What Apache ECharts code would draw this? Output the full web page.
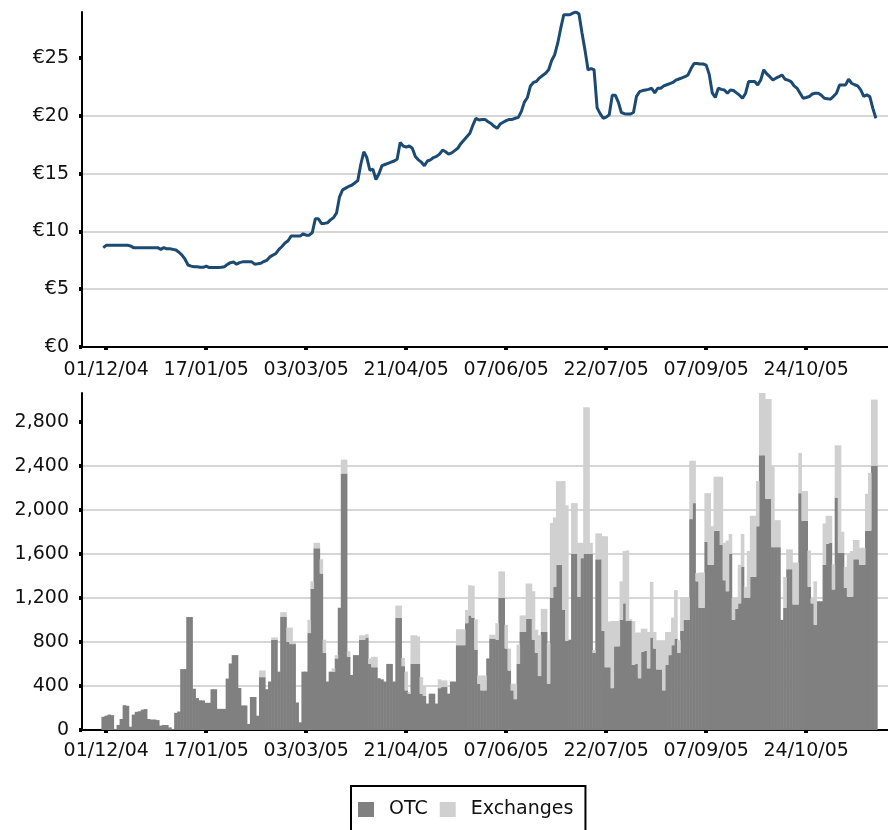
<!DOCTYPE html>
<html>
<head>
<meta charset="UTF-8">
<script src="https://cdn.jsdelivr.net/npm/echarts@6/dist/echarts.min.js"></script>
<style>
    * { margin: 0; padding: 0; }
    body { background: #fff; }
    #chart { width: 888px; height: 830px; }
</style>
</head>
<body>
<div id="chart"></div>
<script>
    // x positions are trading-day slots; first traded day sits in slot 7
    var firstSlot = 7;
    var slotCount = 267;
    var tickSlot = 8;   // slot of 01/12/04
    var tickStep = 33;  // trading days between labels
    var tickLabels = ['01/12/04', '17/01/05', '03/03/05', '21/04/05', '07/06/05', '22/07/05', '07/09/05', '24/10/05'];

    // share price in euro
    var price = [
        8.6, 8.8, 8.8, 8.8, 8.8, 8.8, 8.8, 8.8, 8.8, 8.75,
        8.6, 8.6, 8.6, 8.6, 8.6, 8.6, 8.6, 8.6, 8.6, 8.45,
        8.6, 8.5, 8.5, 8.45, 8.4, 8.2, 7.95, 7.6, 7.1, 7.0,
        6.95, 6.95, 6.9, 6.9, 7.0, 6.88, 6.88, 6.88, 6.88, 6.9,
        6.95, 7.15, 7.3, 7.35, 7.17, 7.3, 7.37, 7.37, 7.37, 7.37,
        7.17, 7.2, 7.25, 7.4, 7.5, 7.8, 7.95, 8.1, 8.45, 8.7,
        9.0, 9.2, 9.6, 9.6, 9.6, 9.6, 9.8, 9.68, 9.68, 9.9,
        11.1, 11.1, 10.7, 10.7, 10.75, 11.0, 11.2, 11.6, 13.0, 13.6,
        13.75, 13.9, 14.0, 14.2, 14.4, 15.8, 16.9, 16.4, 15.3, 15.4,
        14.5, 15.0, 15.7, 15.8, 15.9, 16.0, 16.1, 16.25, 17.7, 17.4,
        17.3, 17.4, 17.2, 16.5, 16.2, 16.0, 15.7, 16.1, 16.2, 16.4,
        16.5, 16.7, 17.05, 16.9, 16.7, 16.8, 17.0, 17.2, 17.6, 17.9,
        18.2, 18.5, 19.2, 19.8, 19.65, 19.7, 19.7, 19.5, 19.35, 19.1,
        18.93, 19.3, 19.45, 19.6, 19.7, 19.7, 19.8, 19.88, 20.4, 21.2,
        21.6, 22.6, 22.9, 23.0, 23.3, 23.5, 23.7, 24.0, 24.8, 25.3,
        26.3, 27.6, 28.76, 28.76, 28.76, 28.9, 29.0, 28.84, 27.2, 25.7,
        24.0, 24.1, 24.0, 20.7, 20.2, 19.8, 19.9, 20.1, 21.8, 21.8,
        21.2, 20.3, 20.2, 20.17, 20.17, 20.3, 21.7, 22.1, 22.2, 22.25,
        22.3, 22.4, 22.0, 22.4, 22.4, 22.6, 22.7, 22.8, 22.9, 23.1,
        23.2, 23.3, 23.4, 23.55, 24.1, 24.55, 24.55, 24.5, 24.5, 24.4,
        23.6, 22.0, 21.6, 22.4, 22.3, 22.25, 21.97, 22.25, 22.2, 22.0,
        21.8, 21.53, 21.97, 22.98, 22.98, 22.98, 22.69, 23.12, 24.0, 23.64,
        23.4, 23.12, 23.27, 23.4, 23.55, 23.18, 23.1, 22.98, 22.6, 22.4,
        21.97, 21.53, 21.6, 21.68, 21.9, 21.97, 21.97, 21.8, 21.53, 21.5,
        21.45, 21.7, 21.97, 22.69, 22.69, 22.69, 23.18, 22.83, 22.7, 22.6,
        22.25, 21.7, 21.82, 21.68, 20.66, 19.8
    ];

    // volumes traded over the counter
    var otc = [
        120, 130, 140, 135, 10, 46, 100, 225, 220, 30,
        140, 165, 170, 185, 190, 100, 95, 95, 90, 40,
        46, 45, 24, 10, 156, 168, 553, 553, 1026, 1026,
        375, 290, 270, 268, 247, 247, 370, 370, 192, 192,
        192, 467, 604, 680, 680, 381, 223, 223, 55, 300,
        300,
        130, 480, 480, 370, 440, 820, 820, 530, 1030, 1030,
        800, 780, 780, 250, 70, 530, 530, 880, 1280, 1650,
        1650, 1420, 700, 440, 530, 530, 650, 1110, 2330, 2330,
        665, 500, 680, 680, 820, 820, 840, 600, 570, 570,
        470, 460, 440, 600, 600, 440, 1020, 1020, 580, 360,
        330, 600, 600,
        600, 330, 310, 240, 330, 330, 240, 380, 390, 390,
        330, 440, 440, 770, 770, 770, 970, 1040, 1020, 730,
        420, 360, 360, 650, 830, 830, 820, 1200, 1200, 740,
        540, 360, 280, 600, 890, 890, 1010, 1010, 820, 700,
        490, 890, 890, 420, 1200, 1300, 1500, 1500, 1090, 810,
        820, 1600,
        1600, 1210, 1560, 1600, 1600, 1600, 700, 1550, 1550, 900,
        570, 570, 380, 760, 760, 1000, 1150, 990, 990, 590,
        600, 470, 710, 720, 560, 840, 740, 550, 550, 360,
        590, 680, 770, 830, 700, 900, 1000, 1000, 1915, 2060,
        1350, 1110, 1110, 1710, 1500, 1500, 1810, 1810, 1680, 1360,
        1260, 1600, 1000, 1100, 1150, 1480, 1200, 1200, 1390, 1390,
        1850, 2495, 2495, 2100, 2100, 1660, 1660, 1660, 1000, 1110,
        1460, 1460, 1140, 1140, 2150, 1900, 1900, 1300, 1150, 955,
        1170, 1170, 1500, 1690, 1700, 1275, 2110, 1610, 1610, 1290,
        1210, 1210, 1550, 1550, 1500, 1500, 1810, 1810, 2400, 2400
    ];

    // volumes traded on exchanges
    var exchanges = [
        0, 0, 0, 0, 0, 0, 0, 0, 0, 0,
        0, 0, 0, 0, 0, 0, 0, 0, 0, 0,
        0, 0, 0, 0, 0, 0, 0, 0, 0, 0,
        0, 0, 0, 0, 0, 0, 0, 0, 0, 0,
        0, 0, 0, 0, 0, 0, 0, 0, 0, 0,
        0,
        0, 60, 60, 0, 0, 20, 20, 0, 40, 40,
        130, 150, 20, 0, 0, 0, 0, 120, 70, 50,
        50, 130, 120, 0, 0, 30, 30, 0, 125, 125,
        50, 0, 0, 0, 40, 40, 30, 50, 95, 95,
        0, 0, 0, 0, 0, 0, 110, 110, 75, 170,
        15, 260, 260,
        250, 150, 90, 0, 0, 0, 0, 80, 60, 60,
        0, 0, 0, 145, 145, 145, 120, 275, 290, 275,
        75, 135, 135, 0, 35, 35, 150, 240, 240, 215,
        200, 60, 140, 175, 150, 150, 320, 320, 440, 210,
        370, 210, 210, 365, 680, 630, 760, 760, 1170, 1230,
        0, 460,
        460, 490, 140, 1330, 1330, 100, 25, 235, 235, 860,
        1190, 415, 610, 230, 230, 350, 475, 640, 15, 400,
        285, 415, 210, 200, 330, 505, 150, 265, 265, 455,
        300, 210, 250, 440, 115, 305, 205, 205, 530, 385,
        75, 320, 320, 440, 650, 350, 490, 490, 620, 340,
        460, 180, 200, 100, 350, 300, 100, 425, 555, 555,
        410, 565, 565, 905, 905, 730, 245, 245, 0, 280,
        180, 180, 380, 380, 365, 270, 270, 330, 45, 395,
        0, 0, 375, 255, 245, 230, 475, 975, 190, 190,
        385, 415, 175, 175, 155, 155, 335, 525, 600, 600
    ];

    var priceTicks = [0, 5, 10, 15, 20, 25];
    var volumeTicks = [0, 400, 800, 1200, 1600, 2000, 2400, 2800];

    function padded(arr) {
        var out = [];
        for (var i = 0; i < firstSlot; i++) out.push(null);
        return out.concat(arr);
    }

    var slots = [];
    for (var i = 0; i < slotCount; i++) slots.push(String(i));

    function isTick(index) {
        return index >= tickSlot && (index - tickSlot) % tickStep === 0;
    }

    var font = { fontFamily: 'DejaVu Sans', fontSize: 19, color: '#111' };

    function xAxisFor(gridIndex, margin) {
        return {
            type: 'category',
            gridIndex: gridIndex,
            data: slots,
            boundaryGap: false,
            axisLine: { lineStyle: { color: '#000', width: 2 } },
            axisTick: { show: true, interval: isTick, length: 3, lineStyle: { color: '#000', width: 4 } },
            axisLabel: {
                interval: isTick,
                margin: margin,
                fontFamily: font.fontFamily,
                fontSize: font.fontSize,
                color: font.color,
                formatter: function (val, idx) {
                    return tickLabels[(idx - tickSlot) / tickStep] || '';
                }
            },
            splitLine: { show: false }
        };
    }

    function yAxisFor(gridIndex, max, step, ticks, fmt) {
        return {
            type: 'value',
            gridIndex: gridIndex,
            min: 0,
            max: max,
            interval: step,
            axisLine: { show: true, lineStyle: { color: '#000', width: 2 } },
            axisTick: { show: true, length: 3, customValues: ticks, lineStyle: { color: '#000', width: 4 } },
            axisLabel: {
                margin: 13,
                customValues: ticks,
                fontFamily: font.fontFamily,
                fontSize: font.fontSize,
                color: font.color,
                formatter: fmt
            },
            splitLine: { show: true, showMaxLine: false, lineStyle: { color: '#d6d6d6', width: 2 } }
        };
    }

    var chart = echarts.init(document.getElementById('chart'), null, { renderer: 'canvas' });

    var option = {
        animation: false,
        backgroundColor: '#fff',
        grid: [
            { left: 82, right: 0, top: 12, height: 335 },
            { left: 82, right: 0, top: 393, height: 337 }
        ],
        xAxis: [xAxisFor(0, 14), xAxisFor(1, 12)],
        yAxis: [
            yAxisFor(0, 29, 5, priceTicks, function (v) { return '€' + v; }),
            yAxisFor(1, 3060, 400, volumeTicks, function (v) { return v.toLocaleString('en-US'); })
        ],
        legend: {
            left: 351,
            top: 786,
            data: ['OTC', 'Exchanges'],
            icon: 'rect',
            itemWidth: 16,
            itemHeight: 15,
            itemGap: 12,
            padding: [14, 12, 20, 7],
            borderColor: '#000',
            borderWidth: 2,
            textStyle: { fontFamily: 'DejaVu Sans', fontSize: 19, color: '#111', padding: [0, 0, 0, 10] }
        },
        series: [
            {
                name: 'Price',
                type: 'line',
                xAxisIndex: 0,
                yAxisIndex: 0,
                data: padded(price),
                showSymbol: false,
                lineStyle: { color: '#1b4a72', width: 3 },
                itemStyle: { color: '#1b4a72' }
            },
            {
                name: 'OTC',
                type: 'bar',
                stack: 'volume',
                xAxisIndex: 1,
                yAxisIndex: 1,
                data: padded(otc),
                barWidth: 3.6,
                itemStyle: { color: '#808080' }
            },
            {
                name: 'Exchanges',
                type: 'bar',
                stack: 'volume',
                xAxisIndex: 1,
                yAxisIndex: 1,
                data: padded(exchanges),
                barWidth: 3.6,
                itemStyle: { color: '#d0d0d0' }
            }
        ]
    };

    chart.setOption(option);
</script>
</body>
</html>
